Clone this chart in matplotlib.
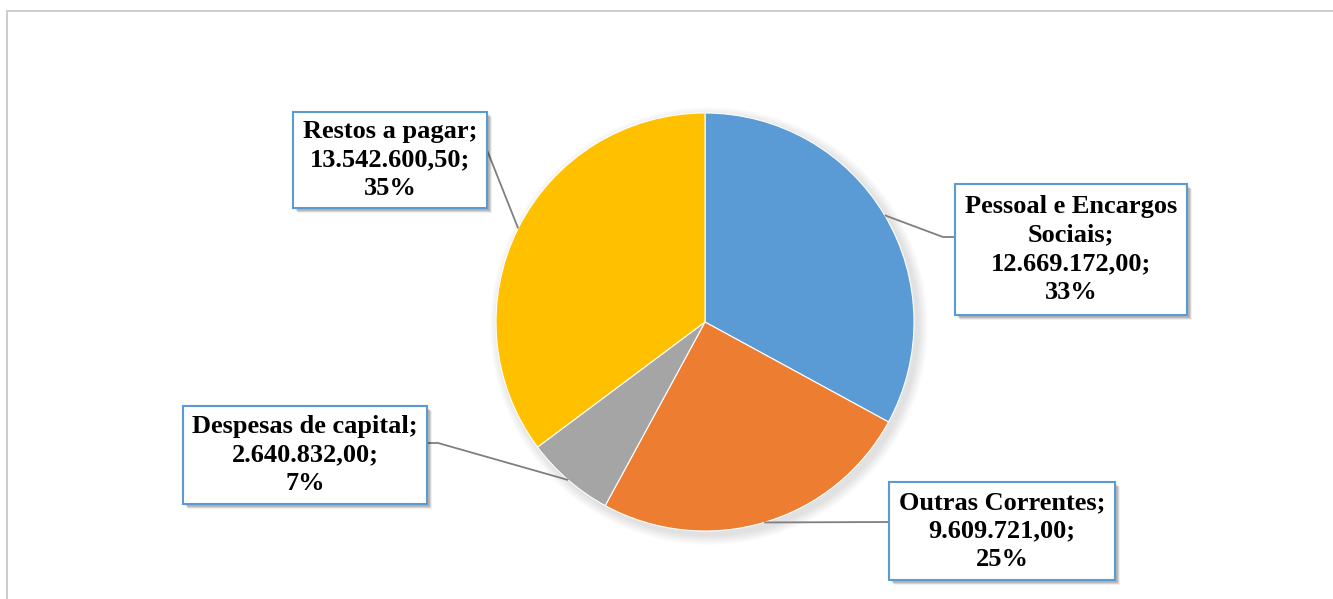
"""Pie chart of expenses by category (Portuguese labels), recreated in matplotlib."""

import numpy as np
import matplotlib

matplotlib.use("Agg")
import matplotlib.pyplot as plt
from matplotlib.patches import Circle, Rectangle

# ------------------------------------------------------------------ data

categories = ["Pessoal e Encargos\nSociais", "Outras Correntes", "Despesas de capital", "Restos a pagar"]
values = [12669172.00, 9609721.00, 2640832.00, 13542600.50]
colors = ["#5B9BD5", "#ED7D31", "#A5A5A5", "#FFC000"]

# ------------------------------------------------------------------ layout (pixels, top-left origin)

W, H = 1333, 599
CX, CY, R = 705, 322, 209
# label boxes: left, top, width, height
boxes = [(955, 184, 232, 131), (889, 482, 226, 98), (183, 406, 244, 98), (293, 112, 194, 96)]
# elbow point of leader line and point where it meets the box
elbows = [(943, 237), (890, 522), (438, 443), (487, 150)]
box_ends = [(955, 237), (890, 522), (427, 443), (487, 150)]

FONT = "Liberation Serif"
LINE_COLOR = "#7F7F7F"


def fy(y):
    return H - y


def br_number(v):
    s = f"{v:,.2f}"
    return s.replace(",", "X").replace(".", ",").replace("X", ".")


fig = plt.figure(figsize=(W / 100, H / 100), dpi=100)
ax = fig.add_axes([0, 0, 1, 1])

# chart-area border
ax.add_patch(Rectangle((7, fy(H + 20)), W + 20, H + 20 - 11, fill=False,
                       edgecolor="#C4C4C4", lw=1.2, zorder=0))

# soft pie shadow
for i in range(10):
    ax.add_patch(Circle((CX + 4, fy(CY + 4)), R + 10 - i, color="black",
                        alpha=0.012, lw=0, zorder=1))

wedges, _ = ax.pie(values, colors=colors, startangle=90, counterclock=False,
                   center=(CX, fy(CY)), radius=R, frame=True,
                   wedgeprops=dict(edgecolor="white", linewidth=0.8, zorder=2))
ax.set_xlim(0, W)
ax.set_ylim(0, H)
ax.set_aspect("equal")
ax.axis("off")

total = sum(values)
for w, cat, v, (bx, by, bw, bh), elbow, end in zip(wedges, categories, values, boxes, elbows, box_ends):
    mid = np.deg2rad((w.theta1 + w.theta2) / 2)
    px = CX + R * np.cos(mid)
    py = fy(CY) + R * np.sin(mid)
    ax.plot([px, elbow[0], end[0]], [py, fy(elbow[1]), fy(end[1])],
            color=LINE_COLOR, lw=1.3, zorder=3, solid_capstyle="butt")

    # box shadow
    for i in range(6):
        ax.add_patch(Rectangle((bx + 2 + i * 0.6, fy(by + bh + 2 + i * 0.6)), bw, bh,
                               color="black", alpha=0.06, lw=0, zorder=4))
    ax.add_patch(Rectangle((bx, fy(by + bh)), bw, bh, facecolor="white",
                           edgecolor="#5B9BD5", lw=1.5, zorder=5))
    pct = round(v / total * 100)
    ax.text(bx + bw / 2, fy(by + bh / 2), f"{cat};\n{br_number(v)};\n{pct}%",
            ha="center", va="center", ma="center", fontsize=19, fontweight="bold",
            family=FONT, linespacing=1.3, zorder=6)

fig.savefig("out.png", dpi=100)
